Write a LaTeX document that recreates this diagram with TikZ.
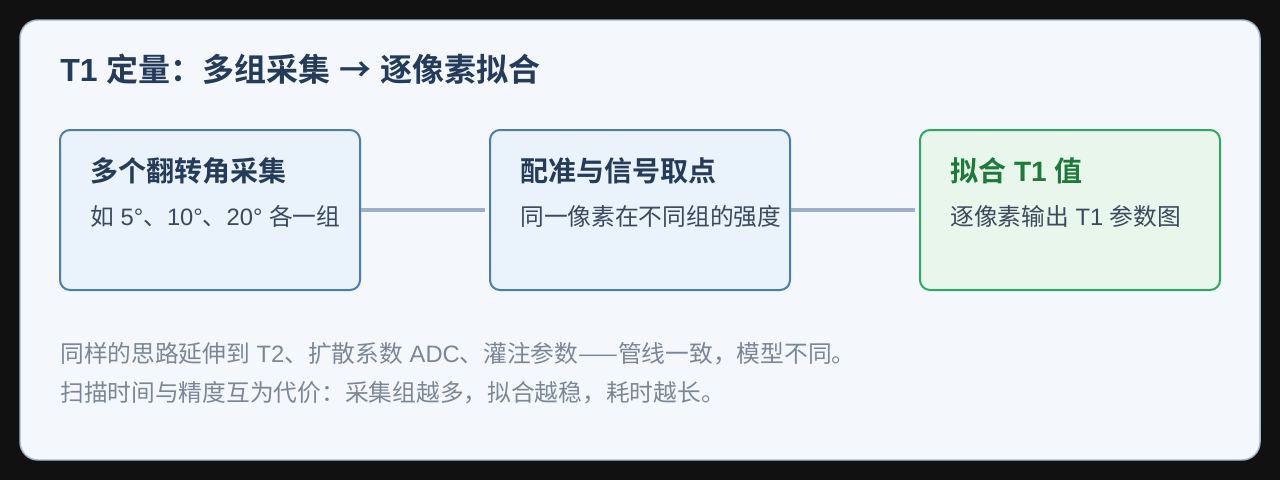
\documentclass[tikz,border=0pt]{standalone}
\usepackage{fontspec}
\setmainfont{Noto Sans CJK SC}
\newfontfamily\cjkb{Noto Sans CJK SC Bold}
\newfontfamily\lat{Liberation Sans}
\newcommand{\lt}[1]{{\lat #1}}
\newcommand{\ltb}[1]{{\lat\bfseries #1}}
\definecolor{bgdark}{HTML}{111111}
\definecolor{cardfill}{HTML}{F4F8FC}
\definecolor{cardline}{HTML}{A3B6CB}
\definecolor{navy}{HTML}{243B5A}
\definecolor{subtxt}{HTML}{3A4A5C}
\definecolor{foot}{HTML}{7B8797}
\definecolor{bluefill}{HTML}{EAF2FB}
\definecolor{blueline}{HTML}{4A7DB4}
\definecolor{greenfill}{HTML}{E8F6EC}
\definecolor{greenline}{HTML}{2EAA5C}
\definecolor{greentxt}{HTML}{1E7A3A}
\definecolor{connc}{HTML}{9DB0C8}
\tikzset{
  stepbox/.style={draw=blueline, fill=bluefill, line width=1.5pt, rounded corners=7.5pt,
    minimum width=225pt, minimum height=120pt, inner sep=0pt},
  greenbox/.style={stepbox, draw=greenline, fill=greenfill},
  boxtitle/.style={anchor=base west, inner sep=0pt, text=navy,
    font=\cjkb\fontsize{21pt}{25pt}\selectfont},
  boxsub/.style={anchor=base west, inner sep=0pt, text=subtxt,
    font=\fontsize{17.8pt}{21pt}\selectfont},
  foottxt/.style={anchor=base west, inner sep=0pt, text=foot,
    font=\fontsize{17.8pt}{21pt}\selectfont},
  conn/.style={draw=connc, line width=3pt, shorten >=3pt}
}
\begin{document}
\begin{tikzpicture}[x=0.75pt,y=-0.75pt]
\useasboundingbox (0,0) rectangle (1280,480);
\fill[bgdark] (0,0) rectangle (1280,480);
\draw[fill=cardfill, draw=cardline, line width=1.1pt, rounded corners=13.5pt] (20,20) rectangle (1260,460);
\node[anchor=base west, inner sep=0pt, text=navy, font=\cjkb\fontsize{24pt}{28pt}\selectfont] (title) at (60,81) {\ltb{T1 }定量：多组采集\lt{ }→\lt{ }逐像素拟合};
\node[stepbox] (b1) at (210,210) {};
\node[stepbox] (b2) at (640,210) {};
\node[greenbox] (b3) at (1070,210) {};
\node[boxtitle] (t1) at (90,181.5) {多个翻转角采集};
\node[boxsub] (s1) at (90,225) {如\lt{ 5°}、\lt{10°}、\lt{20° }各一组};
\node[boxtitle] (t2) at (520,181.5) {配准与信号取点};
\node[boxsub] (s2) at (520,225) {同一像素在不同组的强度};
\node[boxtitle, text=greentxt] (t3) at (950,181.5) {拟合\ltb{ T1 }值};
\node[boxsub] (s3) at (950,225) {逐像素输出\lt{ T1 }参数图};
\draw[conn] (b1.east) -- (b2.west);
\draw[conn] (b2.east) -- (b3.west);
\node[foottxt] (f1) at (60,362) {同样的思路延伸到\lt{ T2}、扩散系数\lt{ ADC}、灌注参数——管线一致，模型不同。};
\node[foottxt] (f2) at (60,401) {扫描时间与精度互为代价：采集组越多，拟合越稳，耗时越长。};
\end{tikzpicture}
\end{document}
